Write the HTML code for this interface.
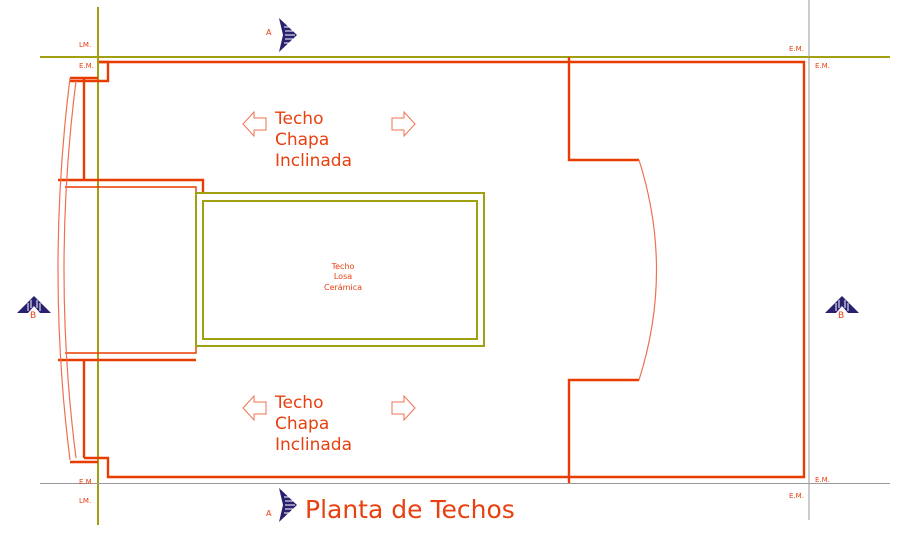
<!DOCTYPE html>
<html><head><style>
html,body{margin:0;padding:0;background:#fff;}
svg{display:block;}
text{font-family:"DejaVu Sans","Liberation Sans",sans-serif;fill:#e84010;}
</style></head><body>
<svg width="897" height="537" viewBox="0 0 897 537" xmlns="http://www.w3.org/2000/svg">
<line x1="98" y1="7" x2="98" y2="525" stroke="#a0a010" stroke-width="2"/>
<line x1="40" y1="57" x2="890" y2="57" stroke="#a0a010" stroke-width="2"/>
<line x1="809" y1="0" x2="809" y2="520" stroke="#999" stroke-width="1"/>
<line x1="40" y1="483.5" x2="890" y2="483.5" stroke="#999" stroke-width="1"/>
<g fill="none" stroke="#e83c00" stroke-width="2.4">
<polyline points="99,62 804,62 804,477 108,477 108,458 84,458"/>
<polyline points="99,62 108,62 108,81 70,81"/>
<line x1="70" y1="78" x2="98" y2="78"/>
<line x1="84" y1="78" x2="84" y2="180"/>
<line x1="84" y1="360" x2="84" y2="458"/>
<line x1="70" y1="462" x2="98" y2="462"/>
<polyline points="58,180 203,180 203,193"/>
<polyline points="65,187 196,187 196,353 65,353" stroke-width="1.4"/>
<polyline points="58,360 196,360"/>
<polyline points="569,57 569,160 639,160"/>
<polyline points="569,483 569,380 639,380"/>
</g>
<g fill="none" stroke="#f07050" stroke-width="1.2">
<path d="M639,160 Q674,270 639,380"/>
<path d="M70,78 Q46,270 70,460"/>
<path d="M76,81 Q52,270 76,458"/>
</g>
<rect x="196" y="193" width="288" height="153" fill="none" stroke="#a0a010" stroke-width="2"/>
<rect x="203" y="201" width="274" height="138" fill="none" stroke="#a0a010" stroke-width="2"/>
<g fill="#fff" stroke="#f07050" stroke-width="1">
<polygon points="243,124 254,112 254,118 266,118 266,130 254,130 254,136"/>
<polygon points="415,124 404,112 404,118 392,118 392,130 404,130 404,136"/>
<polygon points="243,408 254,396 254,402 266,402 266,414 254,414 254,420"/>
<polygon points="415,408 404,396 404,402 392,402 392,414 404,414 404,420"/>
</g>
<text x="275" y="124" font-size="17">Techo</text>
<text x="275" y="145" font-size="17">Chapa</text>
<text x="275" y="166" font-size="17">Inclinada</text>
<text x="275" y="408" font-size="17">Techo</text>
<text x="275" y="429" font-size="17">Chapa</text>
<text x="275" y="450" font-size="17">Inclinada</text>
<text x="343" y="269" font-size="8" text-anchor="middle">Techo</text>
<text x="343" y="279" font-size="8" text-anchor="middle">Losa</text>
<text x="343" y="290" font-size="8" text-anchor="middle">Cerámica</text>
<text x="305" y="518" font-size="25">Planta de Techos</text>
<g font-size="7">
<text x="79" y="47">LM.</text>
<text x="79" y="68">E.M.</text>
<text x="79" y="484">E.M.</text>
<text x="79" y="503">LM.</text>
<text x="789" y="51">E.M.</text>
<text x="815" y="68">E.M.</text>
<text x="789" y="498">E.M.</text>
<text x="815" y="482">E.M.</text>
</g>
<g fill="#2a2070">
<polygon points="279,18 297,35 279,52 283,35"/>
<polygon points="279,488 297,505 279,522 283,505"/>
<polygon points="17,313 34,296 51,313 40,313 34,306 28,313"/>
<polygon points="825,313 842,296 859,313 848,313 842,306 836,313"/>
</g>
<g stroke="#fff" stroke-width="1">
<line x1="284" y1="27" x2="290" y2="27"/><line x1="285" y1="31" x2="293" y2="31"/><line x1="285" y1="35" x2="295" y2="35"/><line x1="285" y1="39" x2="293" y2="39"/><line x1="284" y1="43" x2="290" y2="43"/>
<line x1="284" y1="497" x2="290" y2="497"/><line x1="285" y1="501" x2="293" y2="501"/><line x1="285" y1="505" x2="295" y2="505"/><line x1="285" y1="509" x2="293" y2="509"/><line x1="284" y1="513" x2="290" y2="513"/>
<line x1="28" y1="303" x2="28" y2="311"/><line x1="31" y1="300" x2="31" y2="308"/><line x1="37" y1="300" x2="37" y2="308"/><line x1="40" y1="303" x2="40" y2="311"/>
<line x1="836" y1="303" x2="836" y2="311"/><line x1="839" y1="300" x2="839" y2="308"/><line x1="845" y1="300" x2="845" y2="308"/><line x1="848" y1="303" x2="848" y2="311"/>
</g>
<text x="266" y="35" font-size="8">A</text>
<text x="266" y="516" font-size="8">A</text>
<text x="30" y="318" font-size="9">B</text>
<text x="838" y="318" font-size="9">B</text>
</svg>
</body></html>
